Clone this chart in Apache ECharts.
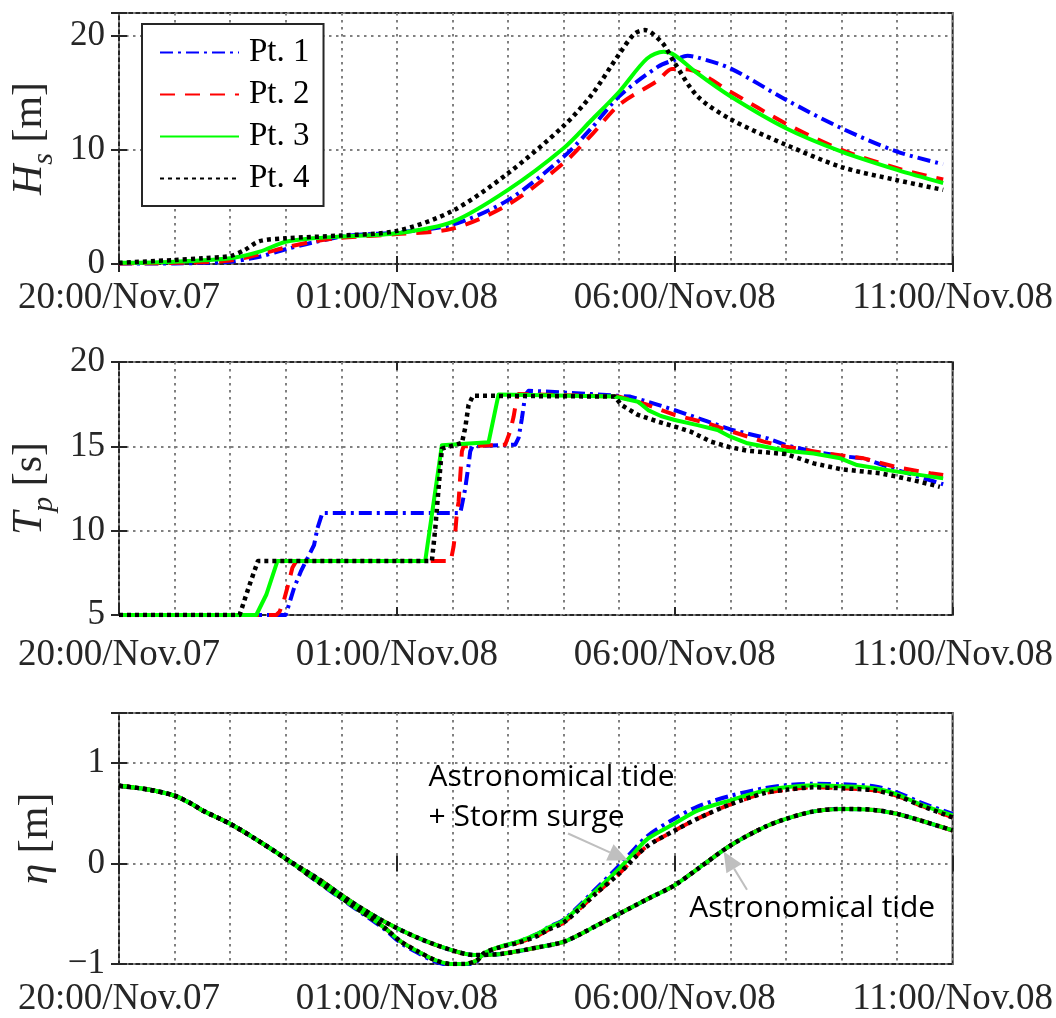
<!DOCTYPE html>
<html>
<head>
<meta charset="utf-8">
<script src="https://cdn.jsdelivr.net/npm/echarts@6/dist/echarts.min.js"></script>
<style>html,body{margin:0;padding:0;background:#fff;}#c{width:1056px;height:1018px;}</style>
</head>
<body>
<div id="c"></div>
<script>
// ---- tick labels (hours after 20:00 Nov.07) ----
const xTickHours = [0, 5, 10, 15];
const xTickLabels = ['20:00/Nov.07', '01:00/Nov.08', '06:00/Nov.08', '11:00/Nov.08'];
const seriesNames = ['Pt. 1', 'Pt. 2', 'Pt. 3', 'Pt. 4'];

// ---- Panel 1: Hs [m] ----
const hsT1 = [0, 1, 1.5, 2, 2.53, 3, 3.48, 4, 4.44, 5, 6, 7, 8, 8.5, 9, 9.7, 10, 10.23, 10.41, 11, 12, 13, 14, 14.83];
const hsV1 = [0.05, 0.05, 0.1, 0.2, 0.64, 1.29, 1.87, 2.4, 2.6, 2.75, 3.45, 5.6, 9.4, 11.9, 14.7, 17.3, 17.9, 18.25, 18.1, 17.15, 14.4, 11.9, 9.85, 8.75];
const hsT2 = [0, 1, 2, 2.53, 3, 3.48, 4, 5, 6, 7, 8, 8.5, 9, 9.7, 9.95, 10.25, 11, 12, 13, 14, 14.83];
const hsV2 = [0.05, 0.1, 0.3, 0.85, 1.45, 1.95, 2.3, 2.62, 3.1, 5.2, 8.85, 11.3, 13.95, 16.1, 17.1, 17.05, 15.1, 12.3, 10.0, 8.4, 7.4];
const hsT3 = [0, 1, 2, 2.53, 3, 3.48, 4, 5, 6, 7, 8, 8.5, 9, 9.5, 9.8, 10, 10.41, 11, 12, 13, 14, 14.83];
const hsV3 = [0.1, 0.2, 0.5, 1.08, 1.95, 2.25, 2.4, 2.7, 3.7, 6.5, 10.15, 12.6, 15.1, 18.0, 18.6, 18.3, 16.7, 14.7, 11.9, 9.85, 8.25, 7.1];
const hsT4 = [0, 1, 1.5, 2, 2.25, 2.53, 3, 4, 5, 6, 7, 8, 8.5, 9, 9.28, 9.46, 9.78, 10, 10.41, 11, 12, 13, 14, 14.83];
const hsV4 = [0.1, 0.35, 0.5, 0.7, 1.2, 2.0, 2.25, 2.5, 2.9, 4.65, 7.95, 12.1, 14.8, 18.4, 20.2, 20.5, 19.35, 17.6, 14.7, 12.7, 10.45, 8.5, 7.35, 6.5];

// ---- Panel 2: Tp [s] ----
const tpT1 = [0, 3.0, 3.15, 3.27, 3.39, 3.51, 3.57, 3.66, 6.14, 6.17, 6.23, 6.29, 6.32, 6.36, 7.13, 7.19, 7.25, 7.31, 7.37, 8.5, 9.2, 9.52, 10.0, 10.6, 11.0, 11.67, 12.0, 12.5, 13.0, 13.4, 14.0, 14.83];
const tpV1 = [5, 5, 6.6, 7.57, 8.36, 9.15, 10.14, 11.05, 11.05, 11.5, 12.5, 13.9, 14.7, 15.0, 15.1, 15.5, 16.66, 18.04, 18.3, 18.1, 17.95, 17.64, 17.15, 16.46, 16.0, 15.47, 15.07, 14.68, 14.42, 14.29, 13.6, 12.75];
const tpT2 = [0, 2.83, 2.89, 2.97, 3.06, 3.12, 3.19, 5.97, 6.02, 6.05, 6.08, 6.11, 6.14, 6.17, 6.2, 6.95, 7.04, 7.1, 7.16, 7.19, 9.0, 9.52, 10.0, 10.6, 11.0, 11.6, 12.0, 12.74, 13.4, 14.0, 14.6, 14.83];
const tpV2 = [5, 5, 5.2, 5.9, 7.0, 7.8, 8.2, 8.2, 9.05, 9.84, 11.1, 11.7, 13.2, 14.7, 15.0, 15.1, 15.9, 16.75, 17.9, 18.1, 17.95, 17.45, 16.86, 16.36, 15.9, 15.28, 14.98, 14.58, 14.29, 13.76, 13.4, 13.3];
const tpT3 = [0, 2.47, 2.65, 2.85, 5.51, 5.81, 6.65, 6.83, 8.92, 9.34, 9.52, 9.75, 10.0, 10.41, 10.77, 11.0, 11.31, 12.0, 12.5, 12.98, 13.28, 14.0, 14.83];
const tpV3 = [5, 5, 6.2, 8.2, 8.2, 15.07, 15.24, 18.08, 17.95, 17.64, 17.15, 16.8, 16.56, 16.26, 15.97, 15.57, 15.18, 14.74, 14.58, 14.29, 13.89, 13.5, 13.1];
const tpT4 = [0, 2.17, 2.35, 2.5, 5.63, 5.69, 5.75, 5.81, 6.17, 6.23, 6.29, 6.37, 8.92, 9.04, 9.34, 9.7, 10.0, 10.29, 10.65, 11.0, 11.31, 12.0, 12.5, 13.0, 13.7, 14.0, 14.41, 14.77];
const tpV4 = [5, 5, 6.8, 8.2, 8.2, 10.1, 12.5, 14.86, 15.2, 16.1, 17.45, 18.0, 17.95, 17.45, 16.86, 16.46, 16.17, 15.87, 15.28, 14.94, 14.74, 14.54, 13.99, 13.64, 13.4, 13.2, 12.9, 12.6];

// ---- Panel 3: eta [m] ----
const etaT = [0, 0.5, 1.0, 1.31, 1.5, 2.0, 2.5, 3.0, 3.58, 4.18, 4.78, 5.08, 5.38, 5.68, 5.97, 6.21, 6.45, 6.57, 6.87, 7.17, 7.53, 7.72, 8.02, 8.62, 9.0, 9.28, 9.52, 10.0, 10.42, 11.0, 11.6, 12.0, 12.5, 13.0, 13.58, 14.0, 14.42, 15.0];
const etaTotal1 = [0.775, 0.74, 0.676, 0.594, 0.53, 0.396, 0.23, 0.05, -0.185, -0.42, -0.655, -0.795, -0.89, -0.975, -1.01, -1.01, -0.97, -0.9, -0.83, -0.78, -0.70, -0.635, -0.55, -0.23, -0.02, 0.15, 0.28, 0.45, 0.57, 0.675, 0.75, 0.78, 0.795, 0.79, 0.77, 0.71, 0.61, 0.495];
const etaTotal2 = [0.775, 0.74, 0.676, 0.594, 0.53, 0.396, 0.23, 0.05, -0.18, -0.41, -0.64, -0.78, -0.875, -0.96, -1.0, -1.0, -0.96, -0.89, -0.83, -0.79, -0.72, -0.66, -0.58, -0.28, -0.1, 0.06, 0.18, 0.33, 0.45, 0.59, 0.7, 0.735, 0.76, 0.75, 0.73, 0.675, 0.58, 0.46];
const etaTotal3 = [0.775, 0.74, 0.676, 0.594, 0.53, 0.396, 0.23, 0.05, -0.18, -0.41, -0.64, -0.78, -0.875, -0.96, -1.0, -1.0, -0.96, -0.89, -0.825, -0.78, -0.70, -0.64, -0.56, -0.25, -0.05, 0.115, 0.25, 0.40, 0.53, 0.63, 0.725, 0.76, 0.78, 0.77, 0.75, 0.69, 0.59, 0.48];
const etaTotal4 = [0.775, 0.74, 0.676, 0.594, 0.53, 0.396, 0.23, 0.05, -0.18, -0.41, -0.64, -0.78, -0.875, -0.96, -1.0, -1.0, -0.96, -0.89, -0.83, -0.79, -0.72, -0.66, -0.58, -0.28, -0.1, 0.06, 0.18, 0.33, 0.45, 0.59, 0.7, 0.735, 0.76, 0.75, 0.73, 0.675, 0.58, 0.46];
const tideT = [0, 0.5, 1.0, 1.31, 1.5, 2.0, 2.5, 3.0, 3.58, 4.18, 4.78, 5.38, 5.97, 6.39, 6.87, 7.53, 8.02, 8.62, 9.52, 10.0, 10.42, 11.0, 11.6, 12.0, 12.5, 13.0, 13.58, 14.0, 14.42, 15.0];
const tideV = [0.775, 0.74, 0.676, 0.594, 0.53, 0.396, 0.23, 0.05, -0.15, -0.38, -0.58, -0.74, -0.86, -0.91, -0.9, -0.835, -0.775, -0.61, -0.35, -0.215, -0.05, 0.18, 0.36, 0.445, 0.52, 0.545, 0.535, 0.495, 0.43, 0.33];

// ---- annotation texts ----
const annoText1 = ['Astronomical tide', '+ Storm surge'];
const annoText2 = 'Astronomical tide';

// ================= chart =================
const FONT = 'Liberation Serif';
const INK = '#262626';
const GRIDC = '#808080';
const chart = echarts.init(document.getElementById('c'), null, {renderer: 'canvas'});

const styles = [
  {color: '#0000ff', width: 4, type: [13, 5, 3, 5]},
  {color: '#ff0000', width: 4, type: [15, 10]},
  {color: '#00ff00', width: 4, type: 'solid'},
  {color: '#000000', width: 4.5, type: [4, 4]}
];

function mk(k, gi, t, v, smooth) {
  return {
    name: seriesNames[k], type: 'line', xAxisIndex: gi, yAxisIndex: gi,
    data: t.map((x, i) => [x, v[i]]), symbol: 'none', showSymbol: false,
    smooth: smooth ? 0.3 : false,
    color: styles[k].color,
    lineStyle: Object.assign({cap: 'butt', join: 'round'}, styles[k]),
    z: 2 + k, animation: false, silent: true
  };
}

const grids = [
  {left: 119, top: 13, width: 838, height: 251},
  {left: 119, top: 362, width: 838, height: 253},
  {left: 119, top: 713, width: 838, height: 254}
].map(g => Object.assign(g, {show: true, borderColor: INK, borderWidth: 2, backgroundColor: '#fff'}));

const dotted = {color: GRIDC, width: 2, type: [2.5, 4.5]};

function xAx(gi, margin) {
  return {
    gridIndex: gi, type: 'value', min: 0, max: 15, interval: 5,
    axisLine: {show: false},
    axisTick: {show: true, inside: true, length: 8, lineStyle: {color: INK, width: 2}},
    axisLabel: {
      margin: margin, fontFamily: FONT, fontSize: 37, color: INK,
      formatter: v => { const i = xTickHours.indexOf(v); return i >= 0 ? xTickLabels[i] : ''; }
    },
    splitLine: {show: true, lineStyle: dotted},
    minorTick: {show: false, splitNumber: 5},
    minorSplitLine: {show: true, lineStyle: dotted}
  };
}
function xTop(gi) {
  return {gridIndex: gi, type: 'value', position: 'top', min: 0, max: 15, interval: 5,
    axisLine: {show: false}, axisLabel: {show: false}, splitLine: {show: false},
    axisTick: {show: true, inside: true, length: 8, lineStyle: {color: INK, width: 2}}};
}
const richBase = {fontFamily: FONT, color: INK};
function yAx(gi, min, max, interval, name, rich, gap) {
  return {
    gridIndex: gi, type: 'value', min: min, max: max, interval: interval,
    axisLine: {show: false},
    axisTick: {show: true, inside: true, length: 8, lineStyle: {color: INK, width: 2}},
    axisLabel: {
      margin: 14, fontFamily: FONT, fontSize: 35, color: INK,
      formatter: v => (Math.abs((v - min) / interval - Math.round((v - min) / interval)) > 1e-6) ? '' : String(v).replace('-', '\u2212')
    },
    splitLine: {show: true, lineStyle: dotted},
    name: name, nameLocation: 'middle', nameRotate: 90, nameGap: gap,
    nameTextStyle: {rich: rich}
  };
}
function yRight(gi, min, max, interval) {
  return {gridIndex: gi, type: 'value', position: 'right', min: min, max: max, interval: interval,
    axisLine: {show: false}, axisLabel: {show: false}, splitLine: {show: false},
    axisTick: {show: true, inside: true, length: 8, lineStyle: {color: INK, width: 2}}};
}
const rich = {
  i: Object.assign({fontStyle: 'italic', fontSize: 42, verticalAlign: 'top', lineHeight: 42}, richBase),
  s: Object.assign({fontStyle: 'italic', fontSize: 30, verticalAlign: 'bottom', lineHeight: 50}, richBase),
  n: Object.assign({fontSize: 42, verticalAlign: 'top', lineHeight: 42}, richBase)
};

const series = [
  mk(0, 0, hsT1, hsV1, true), mk(1, 0, hsT2, hsV2, true), mk(2, 0, hsT3, hsV3, true), mk(3, 0, hsT4, hsV4, true),
  mk(0, 1, tpT1, tpV1, false), mk(1, 1, tpT2, tpV2, false), mk(2, 1, tpT3, tpV3, false), mk(3, 1, tpT4, tpV4, false),
  mk(0, 2, tideT, tideV, true), mk(1, 2, tideT, tideV, true), mk(2, 2, tideT, tideV, true), mk(3, 2, tideT, tideV, true),
  mk(0, 2, etaT, etaTotal1, true), mk(1, 2, etaT, etaTotal2, true), mk(2, 2, etaT, etaTotal3, true), mk(3, 2, etaT, etaTotal4, true)
];

chart.setOption({
  animation: false,
  textStyle: {fontFamily: FONT},
  grid: grids,
  xAxis: [xAx(0, 16), xAx(1, 22), xAx(2, 17), xTop(0), xTop(1), xTop(2)],
  yAxis: [
    yAx(0, 0, 22, 10, '{i|H}{s|s}{n| [m]}', rich, 55),
    yAx(1, 5, 20, 5, '{i|T}{s|p}{n| [s]}', rich, 55),
    yAx(2, -1, 1.5, 1, '{i|\u03B7}{n| [m]}', rich, 55),
    yRight(0, 0, 22, 10), yRight(1, 5, 20, 5), yRight(2, -1, 1.5, 1)
  ],
  legend: {
    data: seriesNames, orient: 'vertical', left: 142, top: 24,
    padding: [12, 14, 11, 17], itemWidth: 79, itemHeight: 14, itemGap: 9,
    backgroundColor: '#fff', borderColor: INK, borderWidth: 2, borderRadius: 0,
    selectedMode: false,
    itemStyle: {opacity: 0, borderWidth: 0},
    textStyle: {fontFamily: FONT, fontSize: 33, color: '#000', padding: [0, 0, 0, 5]}
  },
  series: series
});

// annotations placed through the panel-3 coordinate system
function P(h, v) { return chart.convertToPixel({gridIndex: 2}, [h, v]); }
function arrow(tail, tip) {
  const a = P(tail[0], tail[1]), b = P(tip[0], tip[1]);
  const dx = b[0] - a[0], dy = b[1] - a[1], L = Math.hypot(dx, dy);
  const ux = dx / L, uy = dy / L, nx = -uy, ny = ux;
  const HL = 20, HW = 9;
  const bx = b[0] - ux * HL, by = b[1] - uy * HL;
  return [
    {type: 'line', shape: {x1: a[0], y1: a[1], x2: bx, y2: by}, style: {stroke: '#bfbfbf', lineWidth: 2}, z: 100},
    {type: 'polygon', shape: {points: [[b[0], b[1]], [bx + nx * HW, by + ny * HW], [bx - nx * HW, by - ny * HW]]}, style: {fill: '#bfbfbf'}, z: 100}
  ];
}
const t1 = P(5.57, 0.861), t1b = P(5.57, 0.457), t2 = P(10.26, -0.446);
const annFont = '30px "Open Sans"';
chart.setOption({
  graphic: [
    {type: 'text', x: t1[0], y: t1[1], z: 100, style: {text: annoText1[0], font: annFont, fill: '#000', verticalAlign: 'middle', align: 'left'}},
    {type: 'text', x: t1b[0], y: t1b[1], z: 100, style: {text: annoText1[1], font: annFont, fill: '#000', verticalAlign: 'middle', align: 'left'}},
    {type: 'text', x: t2[0], y: t2[1], z: 100, style: {text: annoText2, font: annFont, fill: '#000', verticalAlign: 'middle', align: 'left'}}
  ].concat(arrow([8.08, 0.30], [9.16, 0.03]), arrow([11.3, -0.26], [10.88, 0.12]))
});
</script>
</body>
</html>
